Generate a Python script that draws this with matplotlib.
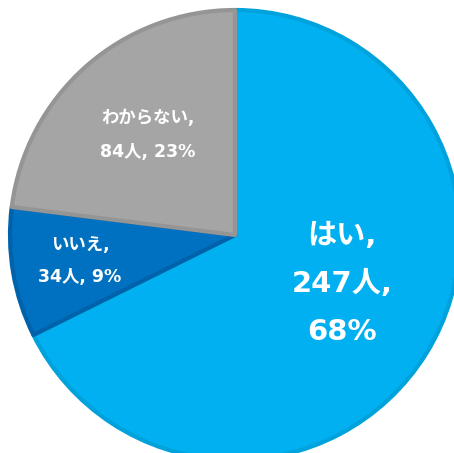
import numpy as np
import matplotlib
matplotlib.use('Agg')
import matplotlib.pyplot as plt

plt.rcParams['font.family'] = ['DejaVu Sans', 'Noto Sans CJK JP']

# data
labels = ['はい', 'いいえ', 'わからない']
counts = [247, 34, 84]
percents = [68, 9, 23]
colors = ['#00B0F0', '#0070C0', '#A5A5A5']
edge_colors = ['#00A2DC', '#0062AA', '#959595']

# pixel geometry of the reference
W, H = 454, 453
cx, cy, R = 235, 235, 225

fig = plt.figure(figsize=(W / 100, H / 100), dpi=100)
ax = fig.add_axes([0, 0, 1, 1])

wedges, _ = ax.pie(counts, colors=colors, startangle=90, counterclock=False,
                   radius=1.0, wedgeprops=dict(linewidth=3.0))
for w, ec in zip(wedges, edge_colors):
    w.set_edgecolor(ec)
    w.set_joinstyle('round')
ax.set_xlim(-cx / R, (W - cx) / R)
ax.set_ylim(-(H - cy) / R, cy / R)
ax.set_aspect('equal')
ax.axis('off')

# label placement (pixel centres) and sizes
label_px = [(342, 284), (80, 261), (148, 135)]
label_size = [21, 12.5, 12.5]
label_gap = [1.9, 2.0, 2.1]
for i, (lab, n, p) in enumerate(zip(labels, counts, percents)):
    px, py = label_px[i]
    x = (px - cx) / R
    y = (cy - py) / R
    if i == 0:
        txt = f'{lab},\n{n}人,\n{p}%'
    else:
        txt = f'{lab},\n{n}人, {p}%'
    ax.text(x, y, txt, ha='center', va='center', color='white',
            fontsize=label_size[i], fontweight='bold', linespacing=label_gap[i])

fig.savefig('out.png', dpi=100)
